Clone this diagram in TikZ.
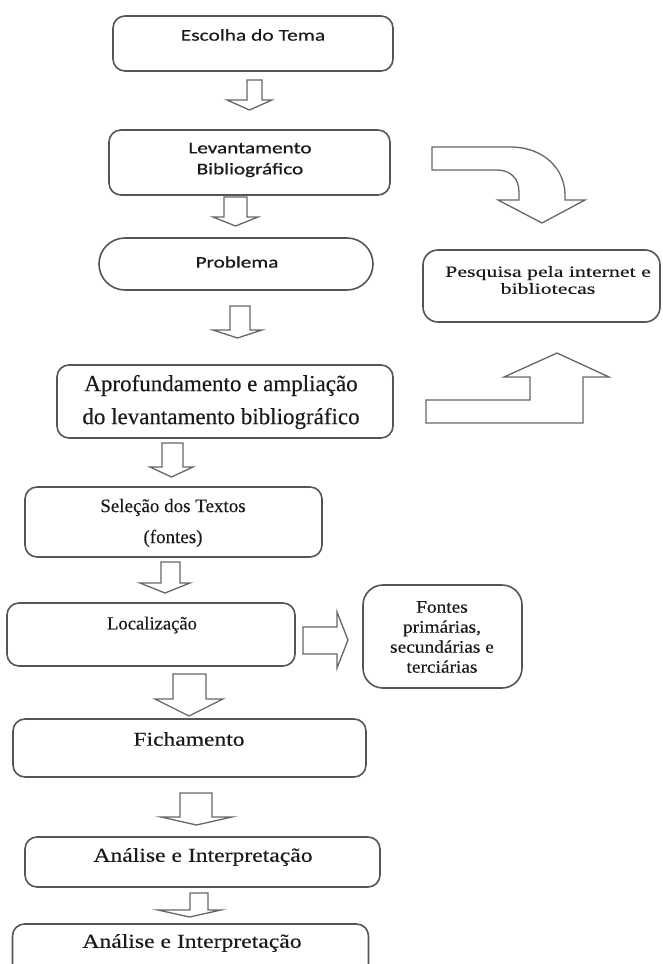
\documentclass[tikz,border=0pt]{standalone}
\usepackage{fontspec}
\setmainfont{Liberation Serif}
\newfontfamily\tnrA[FakeBold=0.3]{Liberation Serif}
\newfontfamily\tnrB[FakeStretch=1.1,FakeBold=0.3]{Liberation Serif}
\newfontfamily\tnrC[FakeStretch=1.2,FakeBold=0.3]{Liberation Serif}
\newfontfamily\tnrD[FakeStretch=1.4,FakeBold=0.3]{Liberation Serif}
\newfontfamily\calfont[FakeStretch=1.3,FakeBold=0.4]{Carlito}
\newfontfamily\calbold[FakeStretch=1.3,FakeBold=0.9]{Carlito}
\definecolor{boxgray}{HTML}{555555}
\definecolor{arrgray}{HTML}{666666}
\definecolor{txtgray}{HTML}{1a1a1a}
\tikzset{
  box/.style={draw=boxgray, line width=1.6pt, rounded corners=12pt, inner sep=0pt, outer sep=0pt},
  blk/.style={draw=arrgray, line width=1.3pt, fill=white, line join=miter},
  tx/.style={text=txtgray, align=center, inner sep=0pt},
}
\newcommand\blkdown[7]{\draw[blk] (#1,#3) -- (#2,#3) -- (#2,#6) -- (#5,#6) -- ({(#4+#5)/2},#7) -- (#4,#6) -- (#1,#6) -- cycle;}
\begin{document}
\begin{tikzpicture}[x=1pt,y=-1pt]
\useasboundingbox (0,0) rectangle (662,964);
\clip (0,0) rectangle (662,964);
% boxes
\node[box, minimum width=280pt, minimum height=55pt] (b1) at (253,43.5) {};
\node[box, minimum width=281pt, minimum height=65pt] (b2) at (249.5,162.5) {};
\node[box, rounded corners=26pt, minimum width=274pt, minimum height=52pt] (b3) at (236,264) {};
\node[box, minimum width=336pt, minimum height=73pt] (b4) at (225,401.5) {};
\node[box, minimum width=297pt, minimum height=70pt] (b5) at (173.5,522) {};
\node[box, minimum width=288pt, minimum height=63pt] (b6) at (151,634.5) {};
\node[box, rounded corners=20pt, minimum width=159pt, minimum height=103pt] (b7) at (442.5,636.5) {};
\node[box, rounded corners=15pt, minimum width=237pt, minimum height=72pt] (b8) at (541.5,286) {};
\node[box, minimum width=353pt, minimum height=58pt] (b9) at (189.5,748) {};
\node[box, minimum width=355pt, minimum height=50pt] (b10) at (202.5,862) {};
\node[box, minimum width=356pt, minimum height=56pt] (b11) at (190.5,952) {};
% texts
\node[tx, font={\calfont\fontsize{16.5}{20}\selectfont}] (t1) at (253,35) {Escolha do Tema};
\node[tx, font={\calbold\fontsize{16.3}{21}\selectfont}] (t2) at (250,160) {Levantamento\\Bibliográfico};
\node[tx, font={\calbold\fontsize{16.3}{20}\selectfont}] (t3) at (237,262) {Problema};
\node[tx, font={\tnrA\fontsize{23}{33}\selectfont}] (t4) at (221,402) {Aprofundamento e ampliação\\do levantamento bibliográfico};
\node[tx, font={\tnrA\fontsize{19}{31}\selectfont}] (t5) at (173,523) {Seleção dos Textos\\(fontes)};
\node[tx, font={\tnrA\fontsize{18.6}{22}\selectfont}] (t6) at (152,625) {Localização};
\node[tx, font={\tnrB\fontsize{17.6}{20}\selectfont}] (t7) at (442,637) {Fontes\\primárias,\\secundárias e\\terciárias};
\node[tx, font={\tnrD\fontsize{15.6}{17}\selectfont}] (t8) at (548,280) {Pesquisa pela internet e\\bibliotecas};
\node[tx, font={\tnrC\fontsize{19.6}{22}\selectfont}] (t9) at (189,739) {Fichamento};
\node[tx, font={\tnrC\fontsize{19.7}{22}\selectfont}] (t10) at (203,857) {Análise e Interpretação};
\node[tx, font={\tnrC\fontsize{19.7}{22}\selectfont}] (t11) at (192,943) {Análise e Interpretação};
% block arrows down
\blkdown{247}{262}{80}{227}{272}{100}{110}
\blkdown{224}{247}{197}{213}{258}{217}{226}
\blkdown{230}{250}{306}{213}{262}{330}{338}
\blkdown{162}{183}{443}{150}{193}{467}{477}
\blkdown{161}{180}{562}{140}{190}{583}{593}
\blkdown{173}{206}{674}{155}{223}{699}{716}
\blkdown{180}{212}{793}{161}{232}{817}{825}
\blkdown{190}{208}{893}{158}{221}{910}{917}
% right arrow
\draw[blk] (303,627) -- (337,627) -- (337,612) -- (348,640) -- (337,668) -- (337,654) -- (303,654) -- cycle;
% curved arrow
\draw[blk] (432,147) -- (510,147) .. controls (545,147) and (565,170) .. (565,195) -- (565,200) -- (585,200) -- (542,223) -- (498,200) -- (519,200) -- (519,192) .. controls (519,178) and (510,170) .. (497,170) -- (432,170) -- cycle;
% up arrow
\draw[blk] (426,423) -- (583,423) -- (583,377) -- (609,377) -- (557,353) -- (504,377) -- (530,377) -- (530,400) -- (426,400) -- cycle;
\end{tikzpicture}
\end{document}
